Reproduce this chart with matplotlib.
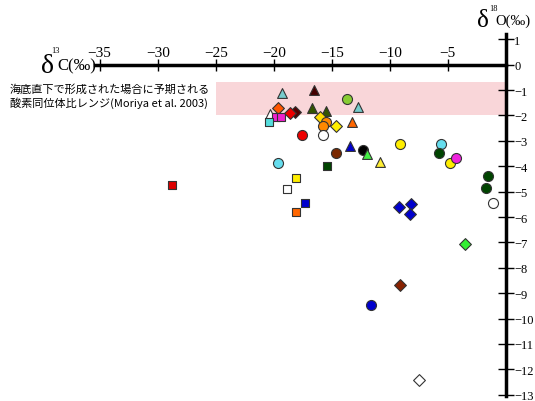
import matplotlib
matplotlib.use("Agg")
import matplotlib.pyplot as plt

plt.rcParams['font.family'] = ['Liberation Serif', 'DejaVu Serif']
plt.rcParams['mathtext.fontset'] = 'stix'

# d13C, d18O, marker, fill colour
d13c = [-28.8, -19.3, -16.55, -13.7, -12.7, -19.6, -16.7, -15.5, -20.3,
        -19.8, -19.4, -18.2, -18.6, -20.4, -16.0, -15.5, -15.75, -14.65,
        -13.25, -17.6, -15.8, -13.4, -14.6, -12.35, -12.0, -19.6, -15.45,
        -18.05, -18.9, -10.85, -17.3, -18.1, -9.1, -5.6, -5.75, -4.8,
        -4.3, -1.55, -1.7, -1.1, -9.2, -8.15, -8.3, -3.5, -9.1, -11.65,
        -7.45]
d18o = [-4.75, -1.12, -0.98, -1.35, -1.67, -1.7, -1.7, -1.83, -1.93,
        -2.07, -2.07, -1.85, -1.9, -2.27, -2.07, -2.26, -2.4, -2.4,
        -2.26, -2.78, -2.78, -3.2, -3.46, -3.37, -3.5, -3.88, -4.0,
        -4.48, -4.89, -3.85, -5.44, -5.79, -3.11, -3.14, -3.48, -3.87,
        -3.67, -4.4, -4.85, -5.43, -5.6, -5.5, -5.9, -7.05, -8.68, -9.46,
        -12.42]
markers = ['s', '^', '^', 'o', '^', 'D', '^', '^', '^',
           's', 's', 'D', 'D', 's', 'D', 'o', 'o', 'D',
           '^', 'o', 'o', '^', 'o', 'o', '^', 'o', 's',
           's', 's', '^', 's', 's', 'o', 'o', 'o', 'o',
           'o', 'o', 'o', 'o', 'D', 'D', 'D', 'D', 'D', 'o',
           'D']
colors = ['#dd0000', '#77cccc', '#440000', '#88cc33', '#77cccc', '#ff5500',
          '#335500', '#335500', '#ffffff', '#ee22cc', '#ee22cc', '#550000',
          '#ee0000', '#55dddd', '#ffdd00', '#ff8800', '#ff8800', '#ffee00',
          '#ff6600', '#ee0000', '#ffffff', '#0000cc', '#7a2800', '#000000',
          '#44ee44', '#66ddee', '#004400', '#ffee00', '#ffffff', '#ffee33',
          '#0000cc', '#ff6600', '#ffee00', '#66ddee', '#004400', '#ffee00',
          '#ee22dd', '#004400', '#004400', '#ffffff', '#0000cc', '#0000cc',
          '#0000cc', '#33ee33', '#882200', '#0000cc', '#ffffff']

band_x = [-25, 0]
band_lo, band_hi = -2.0, -0.7

xticks = [-35, -30, -25, -20, -15, -10, -5]
yticks = [1, 0, -1, -2, -3, -4, -5, -6, -7, -8, -9, -10, -11, -12, -13]

fig = plt.figure(figsize=(5.35, 4.02), dpi=100)
ax = fig.add_axes([0.1776, 0.0124, 0.768, 0.9])

ax.set_xlim(-35.4, 0)
ax.set_ylim(-13.05, 1.2)

ax.fill_between(band_x, band_lo, band_hi, color='#f9d6d9', lw=0, zorder=1)

sizes = {'o': 52, '^': 50, 's': 34, 'D': 36}
for x, y, m, c in zip(d13c, d18o, markers, colors):
    ax.scatter(x, y, marker=m, s=sizes[m], c=c, edgecolors='#333333',
               linewidths=0.8, zorder=3, clip_on=False)

ax.spines['left'].set_visible(False)
ax.spines['bottom'].set_visible(False)
ax.spines['top'].set_position(('data', 0))
ax.spines['top'].set_linewidth(2.5)
ax.spines['right'].set_linewidth(2.5)

ax.xaxis.set_ticks_position('top')
ax.yaxis.set_ticks_position('right')
ax.set_xticks(xticks)
ax.set_yticks(yticks)
ax.set_xticklabels(['\u2212' + str(-t) for t in xticks])
ax.set_yticklabels([('\u2212' + str(-t)) if t < 0 else str(t) for t in yticks])
ax.tick_params(axis='x', direction='inout', length=8, width=1, labelsize=11, pad=0)
ax.tick_params(axis='y', direction='inout', length=12, width=1, labelsize=9, pad=0)

# x label: delta 13 C (permil)
fig.text(0.074, 0.835, r'$\mathregular{\delta}$', fontsize=20, va='center')
fig.text(0.095, 0.872, '13', fontsize=6, va='center')
fig.text(0.107, 0.835, 'C(\u2030)', fontsize=12, va='center')

# y label: delta 18 O (permil)
fig.text(0.890, 0.948, r'$\mathregular{\delta}$', fontsize=18, va='center')
fig.text(0.914, 0.978, '18', fontsize=6, va='center')
fig.text(0.926, 0.948, 'O(\u2030)', fontsize=10.5, va='center')

fig.text(0.018, 0.76, '海底直下で形成された場合に予期される\n酸素同位体比レンジ(Moriya et al. 2003)',
         fontsize=8, va='center', linespacing=1.3,
         family=['Noto Sans CJK JP', 'Liberation Serif'])

fig.savefig('out.png', dpi=100)
